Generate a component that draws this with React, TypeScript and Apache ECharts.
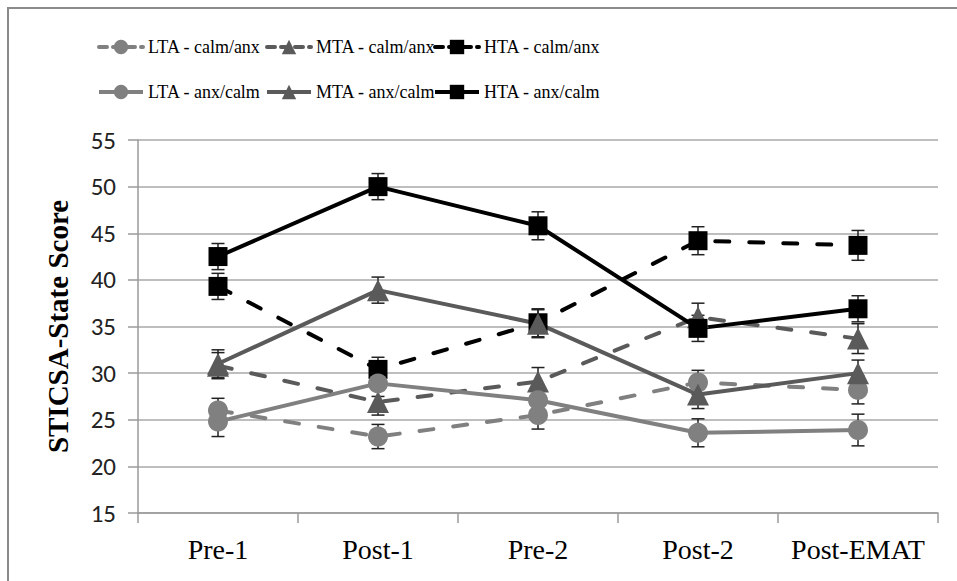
import React, { useEffect, useRef } from "react";
import * as echarts from "echarts";

const categories = ["Pre-1", "Post-1", "Pre-2", "Post-2", "Post-EMAT"];
const yTicks = { min: 15, max: 55, interval: 5 };

// Means and standard errors
const ltaCalmAnx = [26.0, 23.2, 25.5, 29.0, 28.2];
const ltaCalmAnxErr = [1.3, 1.3, 1.5, 1.3, 1.5];
const mtaCalmAnx = [30.8, 26.9, 29.1, 36.0, 33.7];
const mtaCalmAnxErr = [1.4, 1.4, 1.5, 1.5, 1.6];
const htaCalmAnx = [39.3, 30.4, 35.4, 44.2, 43.7];
const htaCalmAnxErr = [1.4, 1.3, 1.5, 1.5, 1.6];
const ltaAnxCalm = [24.8, 28.9, 27.1, 23.6, 23.9];
const ltaAnxCalmErr = [1.6, 1.4, 1.5, 1.5, 1.7];
const mtaAnxCalm = [31.0, 38.9, 35.3, 27.7, 30.0];
const mtaAnxCalmErr = [1.5, 1.4, 1.5, 1.5, 1.4];
const htaAnxCalm = [42.5, 50.0, 45.8, 34.8, 36.9];
const htaAnxCalmErr = [1.4, 1.4, 1.5, 1.4, 1.4];

const SERIF = "'Liberation Serif', 'Times New Roman', serif";
const SANS = "Carlito, Lato, 'Liberation Sans', sans-serif";

const LIGHT = "#808080";
const MID = "#5a5a5a";
const DARK = "#000000";

type Def = {
  name: string;
  values: number[];
  errs: number[];
  color: string;
  symbol: string;
  size: number;
  dashed: boolean;
  legendLeft: number;
  legendTop: number;
};

const defs: Def[] = [
  { name: "LTA - calm/anx", values: ltaCalmAnx, errs: ltaCalmAnxErr, color: LIGHT, symbol: "circle", size: 20, dashed: true, legendLeft: 97, legendTop: 38 },
  { name: "MTA - calm/anx", values: mtaCalmAnx, errs: mtaCalmAnxErr, color: MID, symbol: "triangle", size: 22, dashed: true, legendLeft: 265, legendTop: 38 },
  { name: "HTA - calm/anx", values: htaCalmAnx, errs: htaCalmAnxErr, color: DARK, symbol: "rect", size: 19, dashed: true, legendLeft: 433, legendTop: 38 },
  { name: "LTA - anx/calm", values: ltaAnxCalm, errs: ltaAnxCalmErr, color: LIGHT, symbol: "circle", size: 20, dashed: false, legendLeft: 97, legendTop: 83 },
  { name: "MTA - anx/calm", values: mtaAnxCalm, errs: mtaAnxCalmErr, color: MID, symbol: "triangle", size: 22, dashed: false, legendLeft: 265, legendTop: 83 },
  { name: "HTA - anx/calm", values: htaAnxCalm, errs: htaAnxCalmErr, color: DARK, symbol: "rect", size: 19, dashed: false, legendLeft: 433, legendTop: 83 },
];

function errorSeries(d: Def) {
  return {
    type: "custom",
    name: d.name + " err",
    z: 1,
    silent: true,
    renderItem: (params: any, api: any) => {
      const x = api.value(0);
      const lo = api.coord([x, api.value(1)]);
      const hi = api.coord([x, api.value(2)]);
      const cap = 6.5;
      const style = { stroke: "#222", lineWidth: 1.5, fill: "none" };
      return {
        type: "group",
        children: [
          { type: "line", shape: { x1: lo[0], y1: lo[1], x2: hi[0], y2: hi[1] }, style },
          { type: "line", shape: { x1: lo[0] - cap, y1: lo[1], x2: lo[0] + cap, y2: lo[1] }, style },
          { type: "line", shape: { x1: hi[0] - cap, y1: hi[1], x2: hi[0] + cap, y2: hi[1] }, style },
        ],
      };
    },
    encode: { x: 0, y: [1, 2] },
    data: d.values.map((v, i) => [i, v - d.errs[i], v + d.errs[i]]),
  };
}

function lineSeries(d: Def) {
  return {
    type: "line",
    name: d.name,
    z: 3,
    data: d.values,
    symbol: d.symbol,
    symbolSize: d.size,
    showAllSymbol: true,
    itemStyle: { color: d.color, borderWidth: 0 },
    lineStyle: {
      color: d.color,
      width: 4,
      type: d.dashed ? [14, 20] : "solid",
      cap: d.dashed ? "round" : "butt",
    },
    emphasis: { disabled: true },
  };
}

export default function App() {
  const ref = useRef<HTMLDivElement>(null);
  useEffect(() => {
    if (!ref.current) return;
    const chart = echarts.init(ref.current, null, { renderer: "svg" });
    const option: any = {
      animation: false,
      backgroundColor: "#ffffff",
      grid: { left: 138, right: 19, top: 140, bottom: 68, containLabel: false, outerBoundsMode: "none" },
      legend: defs.map((d) => ({
        data: [d.name],
        left: d.legendLeft,
        top: d.legendTop,
        padding: 0,
        itemWidth: 44,
        itemHeight: 18,
        itemGap: 0,
        selectedMode: false,
        lineStyle: { width: 4, type: d.dashed ? [8, 6] : "solid" },
        textStyle: { fontFamily: SERIF, fontSize: 18, color: "#000" },
      })),
      graphic: [
        {
          type: "rect",
          shape: { x: 8, y: 8, width: 1000, height: 1000 },
          style: { fill: "none", stroke: "#8a8a8a", lineWidth: 2 },
          z: 0,
        },
      ],
      xAxis: {
        type: "category",
        data: categories,
        boundaryGap: true,
        axisLine: { show: true, lineStyle: { color: "#9a9a9a", width: 1.5 } },
        axisTick: { show: true, length: 10, inside: false, alignWithLabel: false, lineStyle: { color: "#9a9a9a", width: 1.5 } },
        axisLabel: { interval: 0, hideOverlap: false, fontFamily: SERIF, fontSize: 28, color: "#000", margin: 22 },
        splitLine: { show: false },
      },
      yAxis: {
        type: "value",
        min: yTicks.min,
        max: yTicks.max,
        interval: yTicks.interval,
        name: "STICSA-State Score",
        nameLocation: "middle",
        nameGap: 66,
        nameRotate: 90,
        nameTextStyle: { fontFamily: SERIF, fontSize: 29, fontWeight: "bold", color: "#000" },
        axisLine: { show: true, lineStyle: { color: "#9a9a9a", width: 1.5 } },
        axisTick: { show: true, length: 10, inside: false, lineStyle: { color: "#9a9a9a", width: 1.5 } },
        axisLabel: { fontFamily: SANS, fontSize: 25, color: "#222", margin: 22 },
        splitLine: { show: true, lineStyle: { color: "#a8a8a8", width: 1.5 } },
      },
      series: [...defs.map(errorSeries), ...defs.map(lineSeries)],
    };
    chart.setOption(option);
    return () => chart.dispose();
  }, []);
  return (
    <div
      ref={ref}
      style={{ position: "fixed", left: 0, top: 0, width: 957, height: 581, background: "#fff" }}
    />
  );
}
